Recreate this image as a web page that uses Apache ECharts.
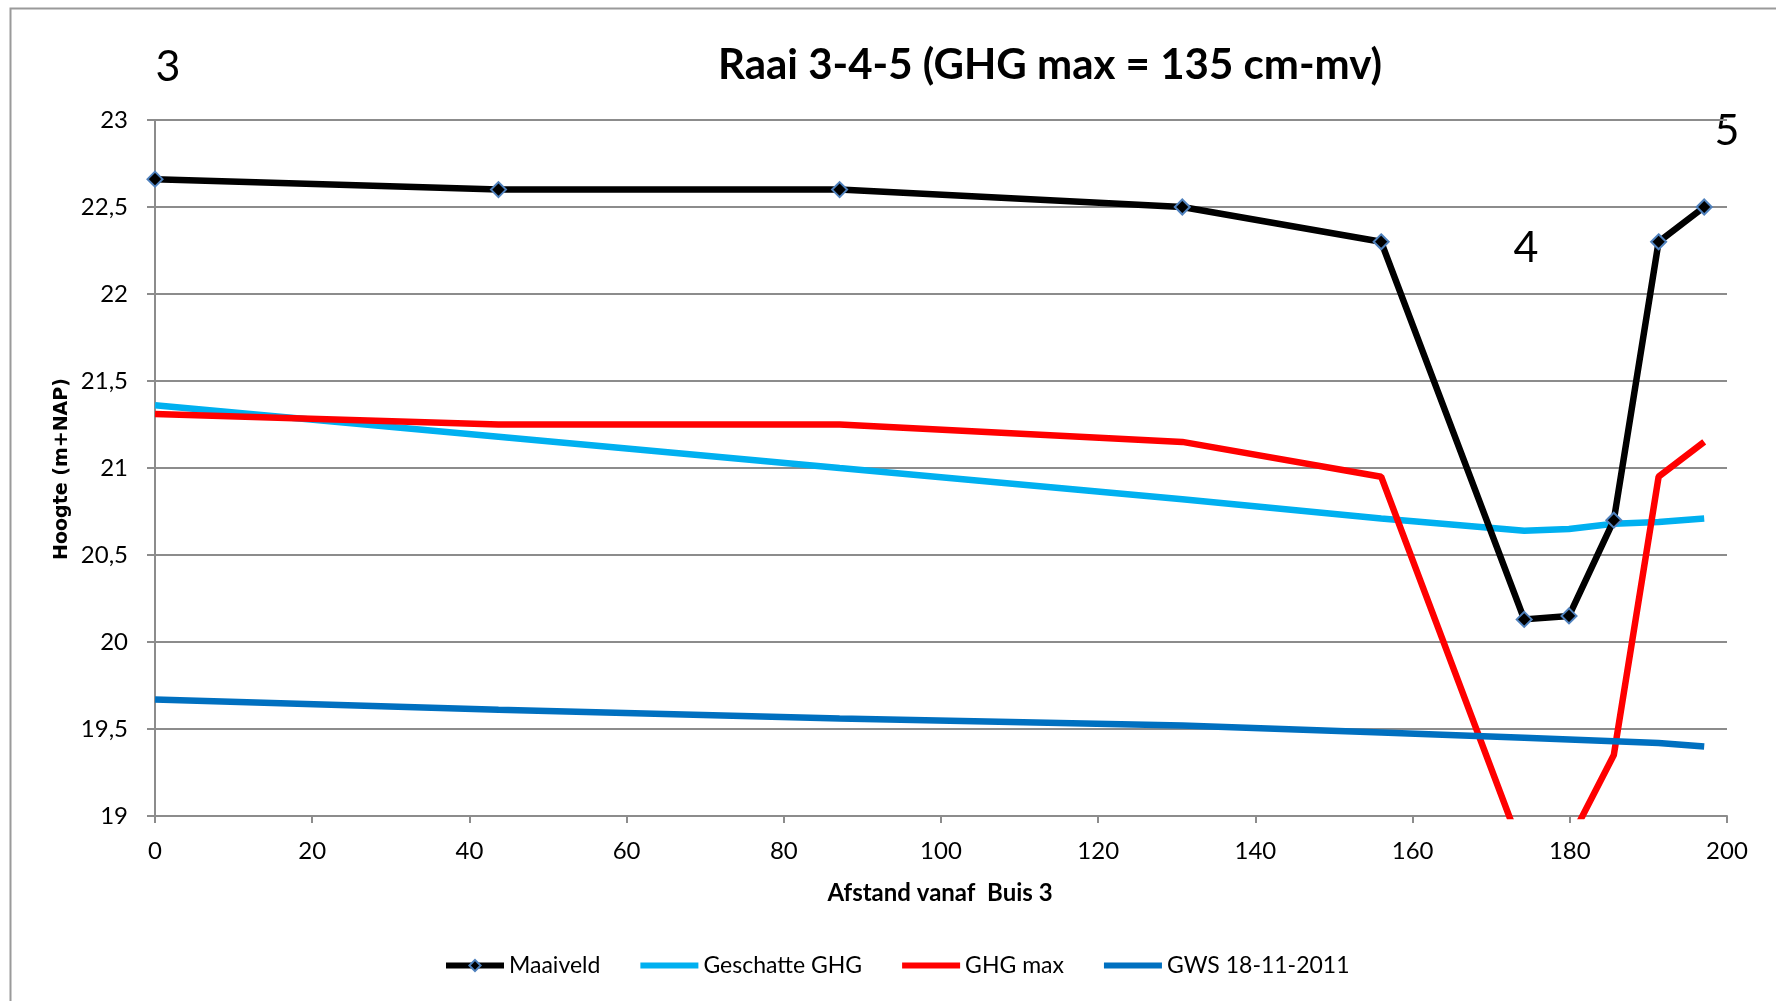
<!DOCTYPE html>
<html>
<head>
<meta charset="utf-8">
<title>Raai 3-4-5</title>
<script src="https://cdn.jsdelivr.net/npm/echarts@6/dist/echarts.min.js"></script>
<style>
  html, body { margin: 0; padding: 0; background: #ffffff; }
  #chart { width: 1776px; height: 1001px; }
</style>
</head>
<body>
<div id="chart"></div>
<script>
// Distance from Buis 3 (m) for each profile point
const afstand = [0, 43.7, 87.1, 130.7, 156.0, 174.2, 179.9, 185.6, 191.3, 197.1];

// Heights in m+NAP
const maaiveld     = [22.66, 22.60, 22.60, 22.50, 22.30, 20.13, 20.15, 20.70, 22.30, 22.50];
const geschatteGHG = [21.36, 21.18, 21.00, 20.82, 20.71, 20.64, 20.65, 20.68, 20.69, 20.71];
const ghgMax       = [21.31, 21.25, 21.25, 21.15, 20.95, 18.77, 18.85, 19.35, 20.95, 21.15];
const gws          = [19.67, 19.61, 19.56, 19.52, 19.48, 19.45, 19.44, 19.43, 19.42, 19.40];

const seriesNames = ['Maaiveld', 'Geschatte GHG', 'GHG max', 'GWS 18-11-2011'];

// Axis tick labels (Dutch decimal comma)
const yTickValues = [19, 19.5, 20, 20.5, 21, 21.5, 22, 22.5, 23];
const yTickLabels = ['19', '19,5', '20', '20,5', '21', '21,5', '22', '22,5', '23'];
const xTickValues = [0, 20, 40, 60, 80, 100, 120, 140, 160, 180, 200];
const xTickLabels = ['0', '20', '40', '60', '80', '100', '120', '140', '160', '180', '200'];

// Buis markers above the profile
const buisLabels = ['3', '4', '5'];

const pairs = (ys) => afstand.map((x, i) => [x, ys[i]]);
const lookup = (vals, labels) => (v) => {
  const i = vals.findIndex((t) => Math.abs(t - v) < 1e-6);
  return i >= 0 ? labels[i] : '';
};

const gridLeft = 155, gridTop = 120, gridWidth = 1572, gridHeight = 696;
const gray = '#8c8c8c';
const font = 'Lato, "Open Sans", sans-serif';
const lineW = 6.5;

const chart = echarts.init(document.getElementById('chart'), null, { renderer: 'canvas' });

chart.setOption({
  backgroundColor: '#ffffff',
  animation: false,
  title: {
    text: 'Raai 3-4-5 (GHG max = 135 cm-mv)',
    left: 1045,
    top: 39,
    textAlign: 'center',
    textStyle: { fontFamily: font, fontSize: 42, fontWeight: 'bold', color: '#000' }
  },
  grid: { left: gridLeft, top: gridTop, width: gridWidth, height: gridHeight, containLabel: false },
  legend: {
    left: 438,
    top: 949,
    itemWidth: 58,
    itemHeight: 14,
    itemGap: 37,
    lineStyle: { width: 6 },
    textStyle: { fontFamily: font, fontSize: 23, color: '#000' },
    data: [
      { name: seriesNames[0] },
      { name: seriesNames[1], itemStyle: { opacity: 0 } },
      { name: seriesNames[2], itemStyle: { opacity: 0 } },
      { name: seriesNames[3], itemStyle: { opacity: 0 } }
    ]
  },
  xAxis: {
    type: 'value',
    min: 0,
    max: 200,
    interval: 20,
    axisLine: { show: true, lineStyle: { color: gray, width: 2 } },
    axisTick: { show: true, inside: false, length: 7, lineStyle: { color: gray, width: 2 } },
    splitLine: { show: false },
    axisLabel: {
      margin: 23,
      fontFamily: font,
      fontSize: 24,
      color: '#000',
      formatter: lookup(xTickValues, xTickLabels)
    }
  },
  yAxis: {
    type: 'value',
    min: 19,
    max: 23,
    interval: 0.5,
    axisLine: { show: true, lineStyle: { color: gray, width: 2 } },
    axisTick: { show: true, inside: false, length: 8, lineStyle: { color: gray, width: 2 } },
    splitLine: { show: true, lineStyle: { color: gray, width: 2 } },
    axisLabel: {
      margin: 27,
      fontFamily: font,
      fontSize: 24,
      color: '#000',
      formatter: lookup(yTickValues, yTickLabels)
    }
  },
  series: [
    {
      name: seriesNames[0],
      type: 'line',
      data: pairs(maaiveld),
      symbol: 'diamond',
      symbolSize: 15,
      showSymbol: true,
      lineStyle: { color: '#000000', width: lineW },
      itemStyle: { color: '#000000', borderColor: '#4f81bd', borderWidth: 2 },
      z: 3
    },
    {
      name: seriesNames[1],
      type: 'line',
      data: pairs(geschatteGHG),
      symbol: 'none',
      lineStyle: { color: '#00b0f0', width: lineW },
      itemStyle: { color: '#00b0f0' },
      z: 2
    },
    {
      name: seriesNames[2],
      type: 'line',
      data: pairs(ghgMax),
      symbol: 'none',
      clip: true,
      lineStyle: { color: '#ff0000', width: lineW },
      itemStyle: { color: '#ff0000' },
      z: 2
    },
    {
      name: seriesNames[3],
      type: 'line',
      data: pairs(gws),
      symbol: 'none',
      lineStyle: { color: '#0070c0', width: lineW },
      itemStyle: { color: '#0070c0' },
      z: 2
    }
  ],
  graphic: [
    {
      type: 'rect',
      silent: true,
      shape: { x: 10.5, y: 8.5, width: 1800, height: 1100 },
      style: { fill: 'none', stroke: '#9a9a9a', lineWidth: 2 }
    },
    {
      type: 'text',
      x: 62, y: 469,
      rotation: Math.PI / 2,
      style: {
        text: 'Hoogte (m+NAP)',
        fontFamily: '"DejaVu Sans", Verdana, sans-serif',
        fontSize: 19, fontWeight: 'bold', fill: '#000',
        align: 'center', verticalAlign: 'middle'
      }
    },
    {
      type: 'text',
      x: 940, y: 893,
      style: {
        text: 'Afstand vanaf  Buis 3',
        fontFamily: font, fontSize: 24, fontWeight: 'bold', fill: '#000',
        align: 'center', verticalAlign: 'middle'
      }
    },
    {
      type: 'text', x: 168, y: 67,
      style: { text: buisLabels[0], fontFamily: font, fontSize: 43, fill: '#000', align: 'center', verticalAlign: 'middle' }
    },
    {
      type: 'text', x: 1526, y: 248,
      style: { text: buisLabels[1], fontFamily: font, fontSize: 43, fill: '#000', align: 'center', verticalAlign: 'middle' }
    },
    {
      type: 'text', x: 1727, y: 131,
      style: { text: buisLabels[2], fontFamily: font, fontSize: 43, fill: '#000', align: 'center', verticalAlign: 'middle' }
    }
  ]
});
</script>
</body>
</html>
